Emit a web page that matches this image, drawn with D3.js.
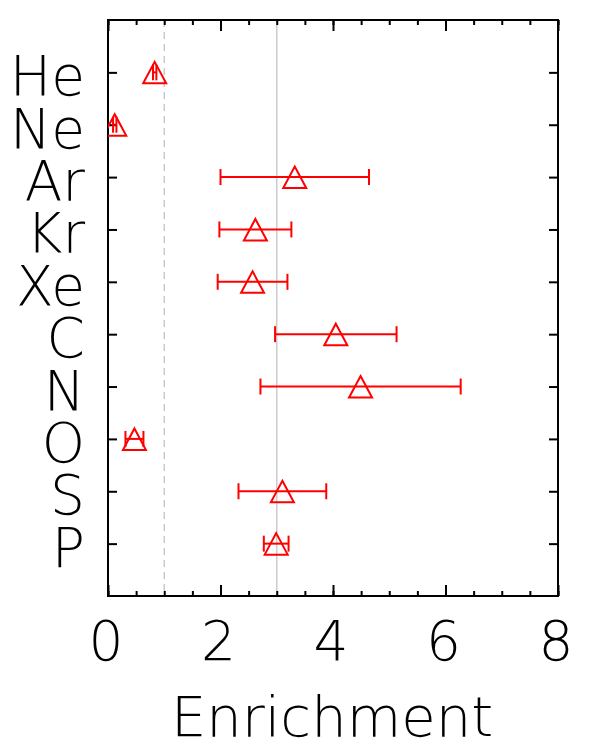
<!DOCTYPE html>
<html>
<head>
<meta charset="utf-8">
<script src="https://cdn.jsdelivr.net/npm/d3@7"></script>
<style>
  body { margin: 0; background: #fff; }
  text { font-family: "DejaVu Sans", sans-serif; font-weight: 200; fill: #000; }
</style>
</head>
<body>
<svg id="chart" width="589" height="750"></svg>
<script>
// element abundances relative to solar
let elements = ["He", "Ne", "Ar", "Kr", "Xe", "C", "N", "O", "S", "P"];
let enrichment = [0.83, 0.12, 3.32, 2.62, 2.57, 4.05, 4.49, 0.47, 3.10, 2.99];
let errors = [0.03, 0.03, 1.32, 0.64, 0.62, 1.08, 1.78, 0.16, 0.78, 0.22];
let xTicks = [0, 2, 4, 6, 8];
let refLines = [1, 3];

let margin = {left: 108, right: 31, top: 20, bottom: 154};
let width = 589, height = 750;

let svg = d3.select("#chart");

let x = d3.scaleLinear().domain([0, 8]).range([margin.left, width - margin.right]);
let y = d3.scaleLinear().domain([0, elements.length + 1]).range([margin.top, height - margin.bottom]);

let minor = d3.range(0, 8.01, 0.5);

// reference lines
svg.append("line")
  .attr("x1", x(refLines[0])).attr("x2", x(refLines[0]))
  .attr("y1", y(0)).attr("y2", y(11))
  .attr("stroke", "#c4c4c4").attr("stroke-width", 1.3)
  .attr("stroke-dasharray", "7,5");
svg.append("line")
  .attr("x1", x(refLines[1])).attr("x2", x(refLines[1]))
  .attr("y1", y(0)).attr("y2", y(11))
  .attr("stroke", "#cccccc").attr("stroke-width", 1.5);

// ticks
function tickAxis(axis, size, values) {
  return axis.tickValues(values).tickSizeInner(-size).tickSizeOuter(0).tickFormat("");
}
let axes = [
  [d3.axisBottom(x), height - margin.bottom, 5, minor],
  [d3.axisBottom(x), height - margin.bottom, 11, xTicks],
  [d3.axisTop(x), margin.top, 5, minor],
  [d3.axisTop(x), margin.top, 11, xTicks]
];
axes.forEach(function(a) {
  let g = svg.append("g").attr("transform", "translate(0," + a[1] + ")")
    .call(tickAxis(a[0], a[2], a[3]));
  g.select(".domain").remove();
  g.selectAll("line").attr("stroke", "#000").attr("stroke-width", 2);
});
let rows = d3.range(1, elements.length + 1);
[[d3.axisLeft(y), margin.left], [d3.axisRight(y), width - margin.right]].forEach(function(a) {
  let g = svg.append("g").attr("transform", "translate(" + a[1] + ",0)")
    .call(tickAxis(a[0], 9, rows));
  g.select(".domain").remove();
  g.selectAll("line").attr("stroke", "#000").attr("stroke-width", 2);
});

// frame
svg.append("rect")
  .attr("x", x(0)).attr("y", y(0))
  .attr("width", x(8) - x(0)).attr("height", y(11) - y(0))
  .attr("fill", "none").attr("stroke", "#000").attr("stroke-width", 2);

// x tick labels
svg.selectAll(".xlab").data(xTicks).enter().append("text")
  .attr("x", d => x(d) - 2).attr("y", 660)
  .attr("text-anchor", "middle").attr("font-size", 55)
  .text(d => d);

svg.append("text")
  .attr("x", 332).attr("y", 736)
  .attr("text-anchor", "middle").attr("font-size", 56)
  .text("Enrichment");

// y labels
svg.selectAll(".ylab").data(elements).enter().append("text")
  .attr("x", 85).attr("y", (d, i) => y(i + 1) + 23)
  .attr("text-anchor", "end").attr("font-size", 55)
  .text(d => d);

// data marks
svg.append("clipPath").attr("id", "clip").append("rect")
  .attr("x", x(0)).attr("y", y(0))
  .attr("width", x(8) - x(0)).attr("height", y(11) - y(0));

let marks = svg.append("g").attr("clip-path", "url(#clip)");
let red = "#ff0000";
let pts = elements.map((e, i) => ({v: enrichment[i], err: errors[i], row: i + 1}));

marks.selectAll(".bar").data(pts).enter().append("line")
  .attr("x1", d => x(d.v - d.err)).attr("x2", d => x(d.v + d.err))
  .attr("y1", d => y(d.row)).attr("y2", d => y(d.row))
  .attr("stroke", red).attr("stroke-width", 2);
["lo", "hi"].forEach(function(side) {
  marks.selectAll(".cap" + side).data(pts).enter().append("line")
    .attr("x1", d => x(side == "lo" ? d.v - d.err : d.v + d.err))
    .attr("x2", d => x(side == "lo" ? d.v - d.err : d.v + d.err))
    .attr("y1", d => y(d.row) - 8).attr("y2", d => y(d.row) + 8)
    .attr("stroke", red).attr("stroke-width", 2);
});
marks.selectAll(".tri").data(pts).enter().append("path")
  .attr("d", function(d) {
    let cx = x(d.v), cy = y(d.row);
    return "M" + cx + "," + (cy - 10.5) + "L" + (cx + 11.5) + "," + (cy + 11) +
      "L" + (cx - 11.5) + "," + (cy + 11) + "Z";
  })
  .attr("fill", "none").attr("stroke", red).attr("stroke-width", 2);
</script>
</body>
</html>
